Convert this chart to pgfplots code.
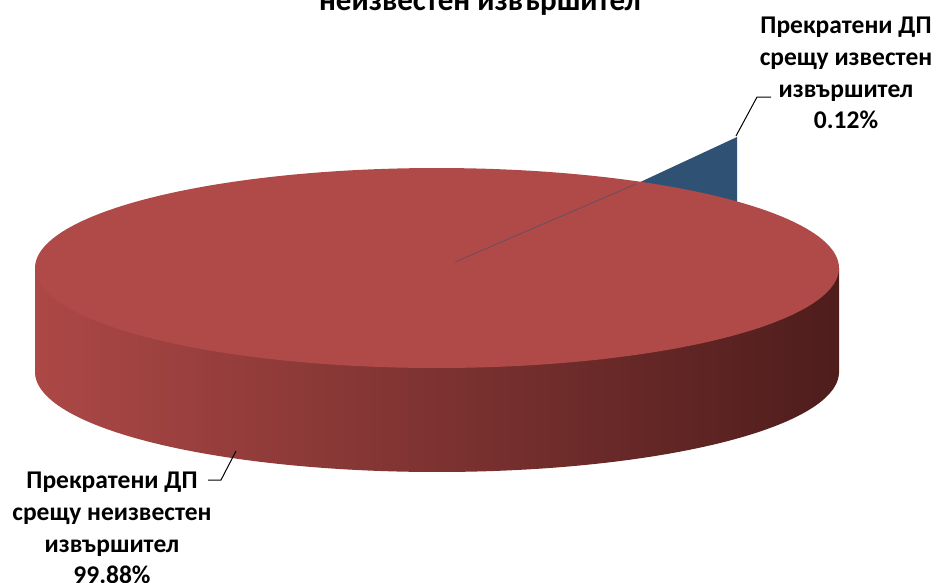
\documentclass[border=0pt]{standalone}
\usepackage{fontspec}
\setmainfont{Carlito}
\usepackage{pgfplots}
\pgfplotsset{compat=1.18}
\definecolor{topred}{RGB}{176,74,72}
\definecolor{sideL}{RGB}{172,72,70}
\definecolor{sideM}{RGB}{130,52,50}
\definecolor{sideR}{RGB}{78,29,28}
\definecolor{sliceblue}{RGB}{47,81,115}
\begin{document}
\begin{tikzpicture}[lab/.style={font=\bfseries\fontsize{25.5}{32}\selectfont, anchor=base, inner sep=0pt}]
% shares: 99.88 (unknown perpetrator), 0.12 (known perpetrator)
\begin{axis}[scale only axis, width=937pt, height=582pt,
  xmin=0, xmax=937, ymin=0, ymax=582, y dir=reverse,
  hide axis, clip=false]
% side of the pie
\addplot[draw=none, left color=sideL, middle color=sideM, right color=sideR, domain=0:180, samples=120]
  ({437+402*cos(x)},{372+100*sin(x)}) -- cycle;
\addplot[draw=none, left color=sideL, middle color=sideM, right color=sideR]
  coordinates {(35,268) (839,268) (839,372) (35,372)} -- cycle;
% exploded slice 0.12%
\addplot[draw=none, fill=sliceblue] coordinates {(636,184) (737,137) (737,204)} -- cycle;
% top face 99.88%
\addplot[draw=none, fill=topred, domain=0:360, samples=200]
  ({437+402*cos(x)},{268+100*sin(x)}) -- cycle;
\addplot[sliceblue!70!topred, line width=0.6pt] coordinates {(455,262) (636,184)};
% leader lines
\addplot[black, line width=1pt] coordinates {(736,136) (757,97) (771,97)};
\addplot[black, line width=1pt] coordinates {(236,451) (221,480) (208,480)};
% title (cut at the top, as in the reference)
\node[font=\bfseries\fontsize{31}{38}\selectfont, anchor=base, inner sep=0pt] at (axis cs:480,-28) {Прекратени ДП срещу известен и};
\node[font=\bfseries\fontsize{31}{38}\selectfont, anchor=base, inner sep=0pt] at (axis cs:480,10) {неизвестен извършител};
% labels
\node[lab] at (axis cs:846,33) {Прекратени ДП};
\node[lab] at (axis cs:846,65) {срещу известен};
\node[lab] at (axis cs:846,97) {извършител};
\node[lab] at (axis cs:846,128) {0.12\%};
\node[lab] at (axis cs:112,488) {Прекратени ДП};
\node[lab] at (axis cs:112,520) {срещу неизвестен};
\node[lab] at (axis cs:112,552) {извършител};
\node[lab] at (axis cs:112,583) {99.88\%};
\end{axis}
\pgfresetboundingbox
\path[use as bounding box] (current axis.south west) rectangle (current axis.north east);
\end{tikzpicture}
\end{document}
